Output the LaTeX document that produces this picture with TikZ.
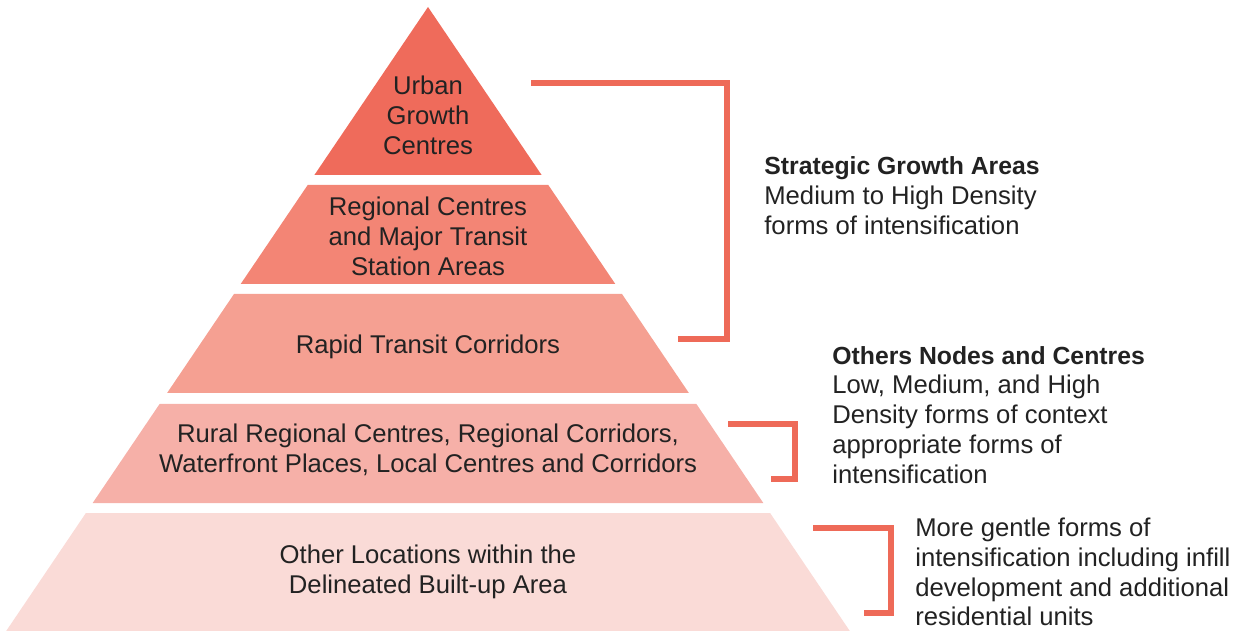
\documentclass[tikz,border=0pt]{standalone}
\usepackage{fontspec}
\setmainfont{Liberation Sans}
\usepackage{tikz}
\usetikzlibrary{positioning}
\definecolor{tierA}{HTML}{EF6B5B}
\definecolor{tierB}{HTML}{F38575}
\definecolor{tierC}{HTML}{F5A092}
\definecolor{tierD}{HTML}{F6B0A8}
\definecolor{tierE}{HTML}{FADBD7}
\definecolor{bracketred}{HTML}{EE6A58}
\definecolor{inkgray}{HTML}{222222}
\newcommand{\notehead}[1]{{\fontsize{14.1}{17}\selectfont\bfseries #1}}
\tikzstyle{tier}=[draw=none]
\tikzstyle{tiertext}=[align=center,inner sep=0pt,text=inkgray,font=\fontsize{14.6}{17}\selectfont]
\tikzstyle{note}=[anchor=west,align=left,inner sep=0pt,text=inkgray,font=\fontsize{14.6}{17}\selectfont]
\tikzstyle{bracket}=[draw=bracketred,line width=3.4pt,line join=miter,line cap=butt]

\begin{document}
\begin{tikzpicture}[x=0.02cm,y=-0.02cm]
                    \useasboundingbox (0,0) rectangle (1258,631);

                    % pyramid tiers
                    \fill[tier,tierA] (428,7) -- (541.6,175) -- (314.4,175) -- cycle;
                    \fill[tier,tierB] (307.7,185) -- (548.3,185) -- (615.3,284) -- (240.7,284) -- cycle;
                    \fill[tier,tierC] (234.0,294) -- (622.0,294) -- (688.9,393) -- (167.1,393) -- cycle;
                    \fill[tier,tierD] (159.6,404) -- (696.4,404) -- (763.3,503) -- (92.7,503) -- cycle;
                    \fill[tier,tierE] (85.9,513) -- (770.1,513) -- (849.8,631) -- (6.2,631) -- cycle;

                    \node[tiertext] (ugc) at (428,115) {Urban\\Growth\\Centres};
                    \node[tiertext] (rc) at (428,236) {Regional Centres\\and Major Transit\\Station Areas};
                    \node[tiertext] (rtc) at (428,347) {Rapid Transit Corridors};
                    \node[tiertext] (rrc) at (428,450) {Rural Regional Centres, Regional Corridors,\\Waterfront Places, Local Centres and Corridors};
                    \node[tiertext] (oth) at (428,572) {Other Locations within the\\Delineated Built-up Area};

                    % brackets
                    \draw[bracket] (531,83) -- (727,83) -- (727,339) -- (678,339);
                    \draw[bracket] (728,424) -- (795,424) -- (795,479) -- (771,479);
                    \draw[bracket] (813,528) -- (891,528) -- (891,613) -- (864,613);

                    \node[note] (sga) at (764,196) {\notehead{Strategic Growth Areas}\\Medium to High Density\\forms of intensification};
                    \node[note] (onc) at (832,415) {\notehead{Others Nodes and Centres}\\Low, Medium, and High\\Density forms of context\\appropriate forms of\\intensification};
                    \node[note] (gen) at (915,572) {More gentle forms of\\intensification including infill\\development and additional\\residential units};
                \end{tikzpicture}
\end{document}
